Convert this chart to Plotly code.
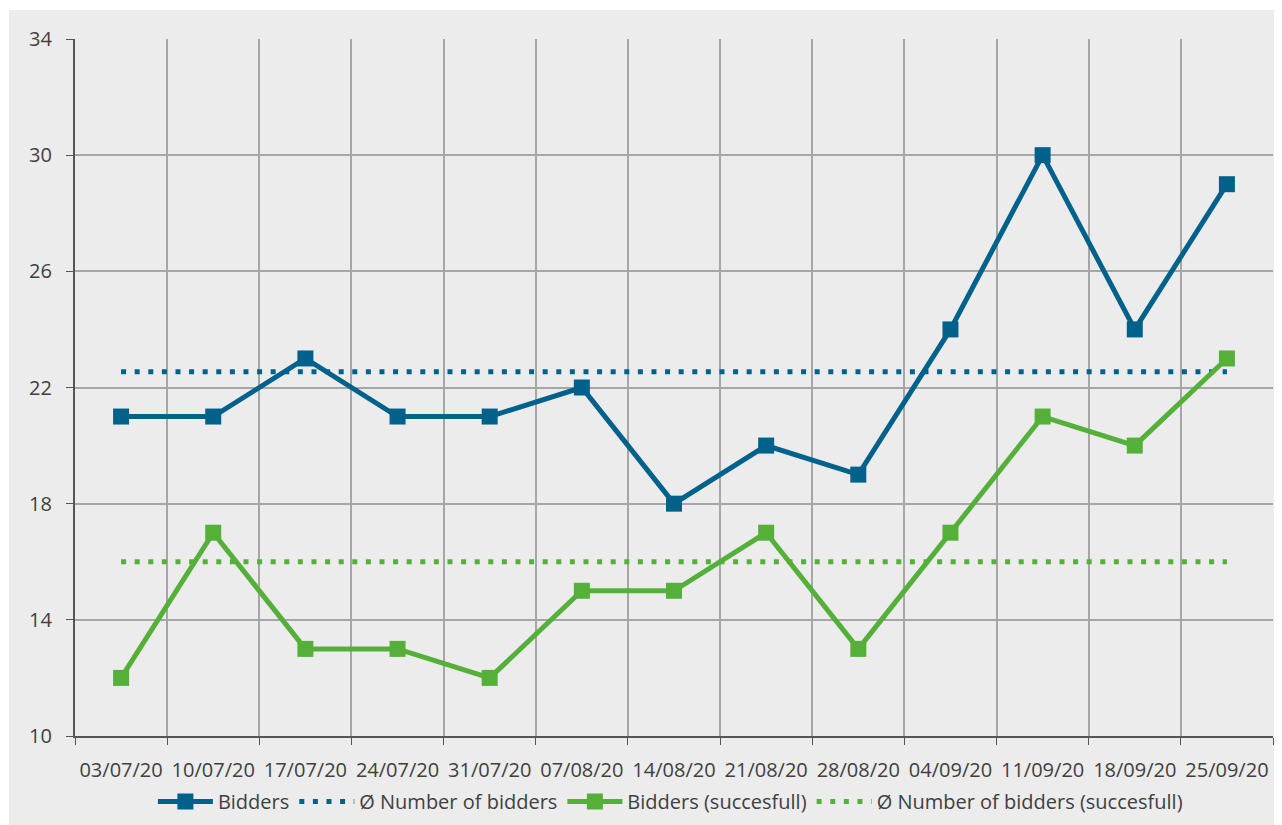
import plotly.graph_objects as go

DATES = ["03/07/20", "10/07/20", "17/07/20", "24/07/20", "31/07/20", "07/08/20",
         "14/08/20", "21/08/20", "28/08/20", "04/09/20", "11/09/20", "18/09/20", "25/09/20"]
BIDDERS = [21, 21, 23, 21, 21, 22, 18, 20, 19, 24, 30, 24, 29]
BIDDERS_OK = [12, 17, 13, 13, 12, 15, 15, 17, 13, 17, 21, 20, 23]
AVG_BIDDERS = 22.54
AVG_BIDDERS_OK = 16.0

BLUE = "#00628b"
GREEN = "#55b03a"
PANEL = "#ececec"
TEXT = "#404040"

# the page body adds an 8px margin, so the figure is 8px smaller than the window
W, H = 1274, 817
ML, MR, MT, MB = 67, 9, 31, 89
pw, ph = W - ML - MR, H - MT - MB

fig = go.Figure()
fig.add_trace(go.Scatter(
    x=DATES, y=BIDDERS, mode="lines+markers", name="Bidders",
    line=dict(color=BLUE, width=5),
    marker=dict(symbol="square", size=16, color=BLUE),
))
fig.add_trace(go.Scatter(
    x=DATES, y=[AVG_BIDDERS] * len(DATES), mode="lines", name="Ø Number of bidders",
    line=dict(color=BLUE, width=5, dash="5px,8.6px"),
))
fig.add_trace(go.Scatter(
    x=DATES, y=BIDDERS_OK, mode="lines+markers", name="Bidders (succesfull)",
    line=dict(color=GREEN, width=5),
    marker=dict(symbol="square", size=16, color=GREEN),
))
fig.add_trace(go.Scatter(
    x=DATES, y=[AVG_BIDDERS_OK] * len(DATES), mode="lines", name="Ø Number of bidders (succesfull)",
    line=dict(color=GREEN, width=5, dash="5px,8.6px"),
))

# grey panel, leaving a thin white border at top and left
fig.add_shape(
    type="rect", xref="paper", yref="paper", layer="below",
    x0=(1 - ML) / pw, x1=(W - ML) / pw,
    y0=(MT + ph - H) / ph, y1=(MT + ph - 2) / ph,
    fillcolor=PANEL, line=dict(width=0),
)

fig.update_layout(
    width=W,
    height=H,
    margin=dict(l=ML, r=MR, t=MT, b=MB, autoexpand=False),
    paper_bgcolor="white",
    plot_bgcolor=PANEL,
    font=dict(family="Open Sans", size=20, color=TEXT),
    showlegend=True,
    legend=dict(
        orientation="h", xanchor="center", x=0.497, yanchor="top", y=-0.066,
        bgcolor="rgba(0,0,0,0)", font=dict(size=20, color=TEXT),
        itemwidth=55,
    ),
)
fig.update_xaxes(
    type="category",
    tickson="boundaries",
    ticks="outside",
    ticklen=7,
    tickangle=0,
    tickcolor="#555555",
    ticklabelstandoff=15,
    automargin=False,
    showgrid=True,
    gridcolor="#a6a6a6",
    gridwidth=1.5,
    showline=True,
    linecolor="#555555",
    linewidth=1.5,
    zeroline=False,
    range=[-0.5, 12.5],
)
fig.update_yaxes(
    range=[10, 34],
    dtick=4,
    tick0=10,
    ticks="outside",
    ticklen=7,
    tickcolor="#555555",
    ticksuffix="\u00a0\u00a0",
    automargin=False,
    showgrid=True,
    gridcolor="#a6a6a6",
    gridwidth=1.5,
    showline=True,
    linecolor="#555555",
    linewidth=1.5,
    zeroline=False,
)

fig.write_html("out.html")
